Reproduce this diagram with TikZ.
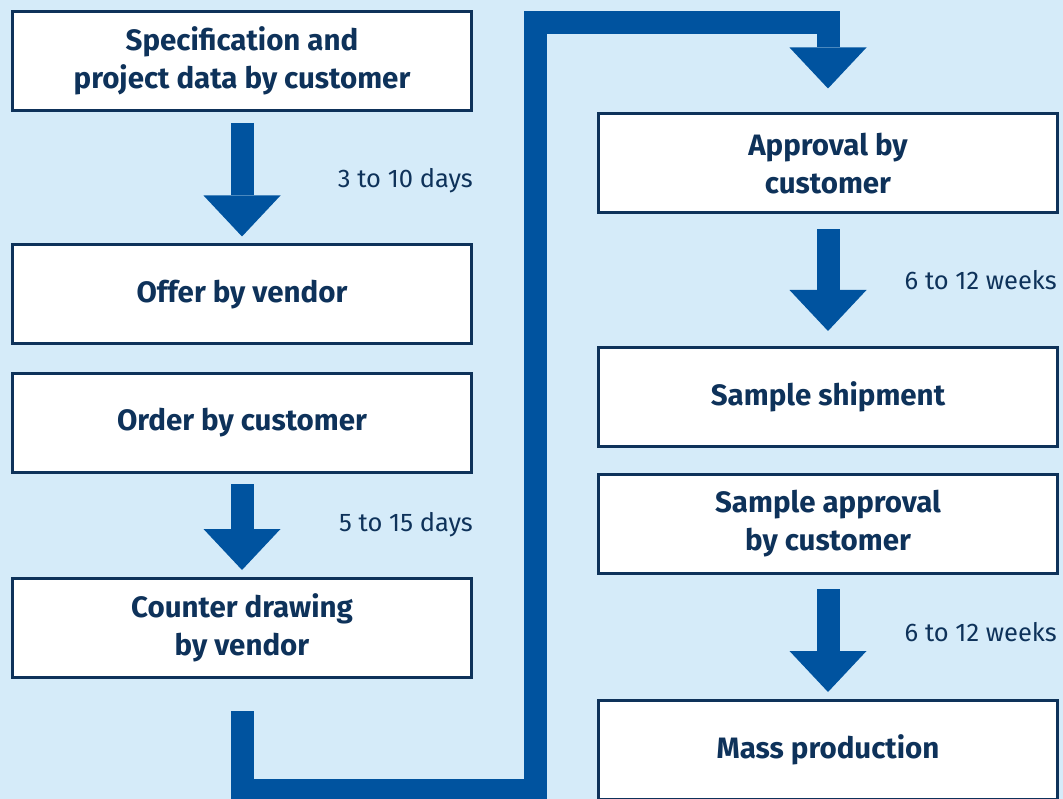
\documentclass[tikz,border=0pt]{standalone}
\usepackage{fontspec}
\setmainfont{Fira Sans}
\usetikzlibrary{arrows.meta}
\definecolor{bgblue}{RGB}{213,235,249}
\definecolor{arrowblue}{RGB}{0,83,159}
\definecolor{navy}{RGB}{14,50,90}
\tikzset{
  stepbox/.style={draw=navy, line width=3pt, fill=white, minimum width=459pt,
    minimum height=99pt, inner sep=0pt, align=center, text=navy,
    font=\fontsize{29.5}{38}\selectfont\bfseries},
  timelabel/.style={anchor=east, inner sep=0pt, text=navy,
    font=\fontsize{25.5}{30}\selectfont},
  blockarrow/.style={draw=arrowblue, line width=23pt, line join=miter,
    -{Triangle[width=77pt,length=41pt,line width=0pt]}}
}
\begin{document}
\begin{tikzpicture}[x=1pt,y=-1pt]
\useasboundingbox (0,0) rectangle (1063,799);
\fill[bgblue] (0,0) rectangle (1063,799);
% left column
\node[stepbox] (spec) at (242,61) {Specification and\\project data by customer};
\node[stepbox] (offer) at (242,294.5) {Offer by vendor};
\node[stepbox] (order) at (242,423) {Order by customer};
\node[stepbox] (counter) at (242,628) {Counter drawing\\by vendor};
% right column
\node[stepbox] (approval) at (828,163.5) {Approval by\\customer};
\node[stepbox] (shipment) at (828,397) {Sample shipment};
\node[stepbox] (sampleok) at (828,524) {Sample approval\\by customer};
\node[stepbox] (mass) at (828,750) {Mass production};
% arrows
\draw[blockarrow] ([yshift=-11pt]spec.south) -- ([yshift=7pt]offer.north);
\draw[blockarrow] ([yshift=-10pt]order.south) -- ([yshift=7pt]counter.north);
\draw[blockarrow] ([yshift=-15pt]approval.south) -- ([yshift=15pt]shipment.north);
\draw[blockarrow] ([yshift=-14pt]sampleok.south) -- ([yshift=7pt]mass.north);
\coordinate (low) at (535,790.5);
\coordinate (high) at (535,22.5);
\draw[blockarrow] ([yshift=-32pt]counter.south) |- (low) -- (high) -| ([yshift=24pt]approval.north);
% durations
\node[timelabel] (t1) at (473,181) {3 to 10 days};
\node[timelabel] (t2) at (473,525) {5 to 15 days};
\node[timelabel] (t3) at (1057,280) {6 to 12 weeks};
\node[timelabel] (t4) at (1057,632) {6 to 12 weeks};
\end{tikzpicture}
\end{document}
